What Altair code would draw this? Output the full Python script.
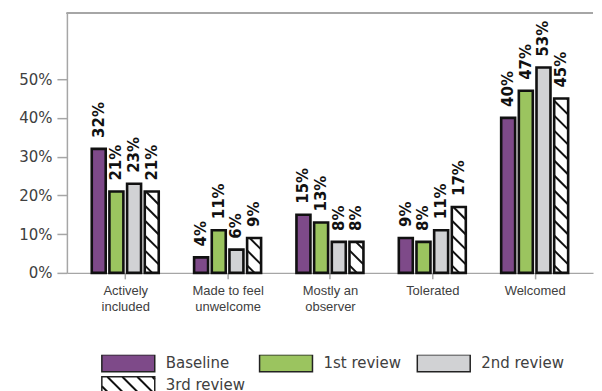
import json
import altair as alt
import pandas as pd

# ---------------- data ----------------
categories = ["Actively included", "Made to feel unwelcome", "Mostly an observer", "Tolerated", "Welcomed"]
category_lines = [["Actively", "included"], ["Made to feel", "unwelcome"], ["Mostly an", "observer"], ["Tolerated"], ["Welcomed"]]
series = ["Baseline", "1st review", "2nd review", "3rd review"]
baseline = [32, 4, 15, 9, 40]
review1 = [21, 11, 13, 8, 47]
review2 = [23, 6, 8, 11, 53]
review3 = [21, 9, 8, 17, 45]
values = [baseline, review1, review2, review3]
colors = ["#7e4a89", "#9bc45f", "#d1d2d4", "#ffffff"]
hatched = [False, False, False, True]
y_ticks = [0, 0.1, 0.2, 0.3, 0.4, 0.5]

# ---------------- layout ----------------
W, H = 527, 260
X_DOMAIN = [-0.57, 4.57]
Y_DOMAIN = [0, 0.67]
SX = W / (X_DOMAIN[1] - X_DOMAIN[0])
SY = H / (Y_DOMAIN[1] - Y_DOMAIN[0])
BAR_PITCH = 17.7 / SX
BAR_W = 14.0 / SX
HATCH_PERIOD = 15.0
FRAME = "#a6a6a6"
TXT = "#404040"


def hatch(x0, x1, y0, y1, sx, sy, period, ydir=1):
    """Diagonal '\\' hatch segments clipped to rect, returned in data units."""
    w = (x1 - x0) * sx
    h = abs(y1 - y0) * sy
    segs = []
    c = period * 0.5
    while c < w + h:
        ua, ub = max(0.0, c - h), min(w, c)
        if ub > ua:
            ta, tb = c - ua, c - ub
            segs.append((x0 + ua / sx, y0 + ydir * ta / sy, x0 + ub / sx, y0 + ydir * tb / sy))
        c += period
    return segs


bar_rows, hatch_rows = [], []
for k, s in enumerate(series):
    for g, cat in enumerate(categories):
        v = values[k][g] / 100
        xc = g + (k - 1.5) * BAR_PITCH
        x0, x1 = xc - BAR_W / 2, xc + BAR_W / 2
        bar_rows.append(dict(series=s, category=cat, xc=xc, x0=x0, x1=x1,
                             value=v, zero=0.0, label=f"{values[k][g]}%"))
        if hatched[k]:
            for a, b, c2, d in hatch(x0, x1, 0.0, v, SX, SY, HATCH_PERIOD):
                hatch_rows.append(dict(x0=a, value=b, x1=c2, zero=d))

bars_df = pd.DataFrame(bar_rows)
hatch_df = pd.DataFrame(hatch_rows)

xs = alt.Scale(domain=X_DOMAIN, nice=False, zero=False)
ys = alt.Scale(domain=Y_DOMAIN, nice=False, zero=False)
fill_scale = alt.Scale(domain=series, range=colors)

x_axis = alt.Axis(values=list(range(len(categories))),
                  labelExpr=json.dumps(category_lines) + "[datum.value]",
                  title=None, grid=False, tickSize=6, tickColor=FRAME, domainColor=FRAME,
                  domainWidth=1.5, tickWidth=1.5,
                  labelFont="Liberation Sans", labelFontSize=13, labelColor=TXT,
                  labelPadding=6, labelLineHeight=16, labelAngle=0,
                  labelOverlap=False, labelFlush=False)
y_axis = alt.Axis(values=y_ticks, format=".0%", title=None, grid=False,
                  tickSize=10, tickColor=FRAME, domainColor=FRAME,
                  domainWidth=1.5, tickWidth=1.5,
                  labelFont="DejaVu Sans", labelFontSize=15, labelColor=TXT,
                  labelPadding=5, minExtent=59, maxExtent=59)

X = alt.X("x0:Q", scale=xs, axis=x_axis)
Y = alt.Y("value:Q", scale=ys, axis=y_axis)

base = alt.Chart(bars_df)
fills = base.mark_rect(strokeWidth=0).encode(
    x=X, x2="x1:Q", y=Y, y2="zero:Q",
    fill=alt.Fill("series:N", scale=fill_scale, legend=None),
)
hatches = alt.Chart(hatch_df).mark_rule(color="#111111", strokeWidth=2).encode(
    x=X, x2="x1:Q", y=Y, y2="zero:Q",
)
outlines = base.mark_rect(filled=False, stroke="#111111", strokeWidth=2.6).encode(
    x=X, x2="x1:Q", y=Y, y2="zero:Q",
)
labels = base.mark_text(angle=270, align="left", baseline="middle", dx=11,
                        font="DejaVu Sans", fontWeight="bold", fontSize=15,
                        color="#111111").encode(
    x=alt.X("xc:Q", scale=xs, axis=x_axis),
    y=Y,
    text="label:N",
)
# top edge of the plot frame, drawn along the upper end of the y domain
top_frame = alt.Chart(bars_df).mark_rule(color=FRAME, strokeWidth=1.5).encode(
    x=alt.X(datum=X_DOMAIN[0], type="quantitative", scale=xs, axis=x_axis),
    x2=alt.X2(datum=X_DOMAIN[1]),
    y=alt.Y(datum=Y_DOMAIN[1], type="quantitative", scale=ys, axis=y_axis),
)
main = alt.layer(fills, hatches, outlines, labels, top_frame).properties(
    width=W, height=H
)

# ---------------- legend ----------------
LW, LH = W, 38
COL_PX, COL0_PX, SW_W, SW_H, ROW_PX = 158, 35, 53, 17, 22
LX_DOMAIN = [-COL0_PX / COL_PX, (LW - COL0_PX) / COL_PX]
LSX = LW / (LX_DOMAIN[1] - LX_DOMAIN[0])
LSY = ROW_PX
leg_rows, leg_hatch = [], []
for k, s in enumerate(series):
    col, row = k % 3, k // 3
    leg_rows.append(dict(series=s, x0=col, x1=col + SW_W / COL_PX,
                         y0=row, y1=row + SW_H / ROW_PX,
                         tx=col + (SW_W + 11) / COL_PX, ty=row + SW_H / 2 / ROW_PX))
    if hatched[k]:
        # rows grow downward here, so flip the vertical direction
        for a, b, c2, d in hatch(col, col + SW_W / COL_PX, row + SW_H / ROW_PX, row,
                                 LSX, LSY, HATCH_PERIOD, ydir=-1):
            leg_hatch.append(dict(x0=a, y0=b, x1=c2, y1=d))
leg_df = pd.DataFrame(leg_rows)
leg_hatch_df = pd.DataFrame(leg_hatch)

lxs = alt.Scale(domain=LX_DOMAIN, nice=False, zero=False)
lys = alt.Scale(domain=[0, LH / ROW_PX], nice=False, zero=False, reverse=True)
LX = alt.X("x0:Q", scale=lxs, axis=None)
LY = alt.Y("y0:Q", scale=lys, axis=None)
lbase = alt.Chart(leg_df)
lfill = lbase.mark_rect(strokeWidth=0, clip=True).encode(
    x=LX, x2="x1:Q", y=LY, y2="y1:Q",
    fill=alt.Fill("series:N", scale=fill_scale, legend=None),
)
lhatch = alt.Chart(leg_hatch_df).mark_rule(color="#111111", strokeWidth=2, clip=True).encode(
    x=LX, x2="x1:Q", y=LY, y2="y1:Q",
)
loutline = lbase.mark_rect(filled=False, stroke="#222222", strokeWidth=1.5, clip=True).encode(
    x=LX, x2="x1:Q", y=LY, y2="y1:Q",
)
ltext = lbase.mark_text(align="left", baseline="middle", font="DejaVu Sans",
                        fontSize=15, color=TXT, clip=True).encode(
    x=alt.X("tx:Q", scale=lxs, axis=None),
    y=alt.Y("ty:Q", scale=lys, axis=None),
    text="series:N",
)
legend = alt.layer(lfill, lhatch, loutline, ltext).properties(
    width=LW, height=LH, view=alt.ViewBackground(stroke=None)
)

chart = alt.vconcat(main, legend, spacing=41).properties(
    padding={"left": 0, "top": 4, "right": 0, "bottom": 0}
).configure_view(stroke=None)

chart.save("out.html", embed_options={"renderer": "svg", "actions": False})
